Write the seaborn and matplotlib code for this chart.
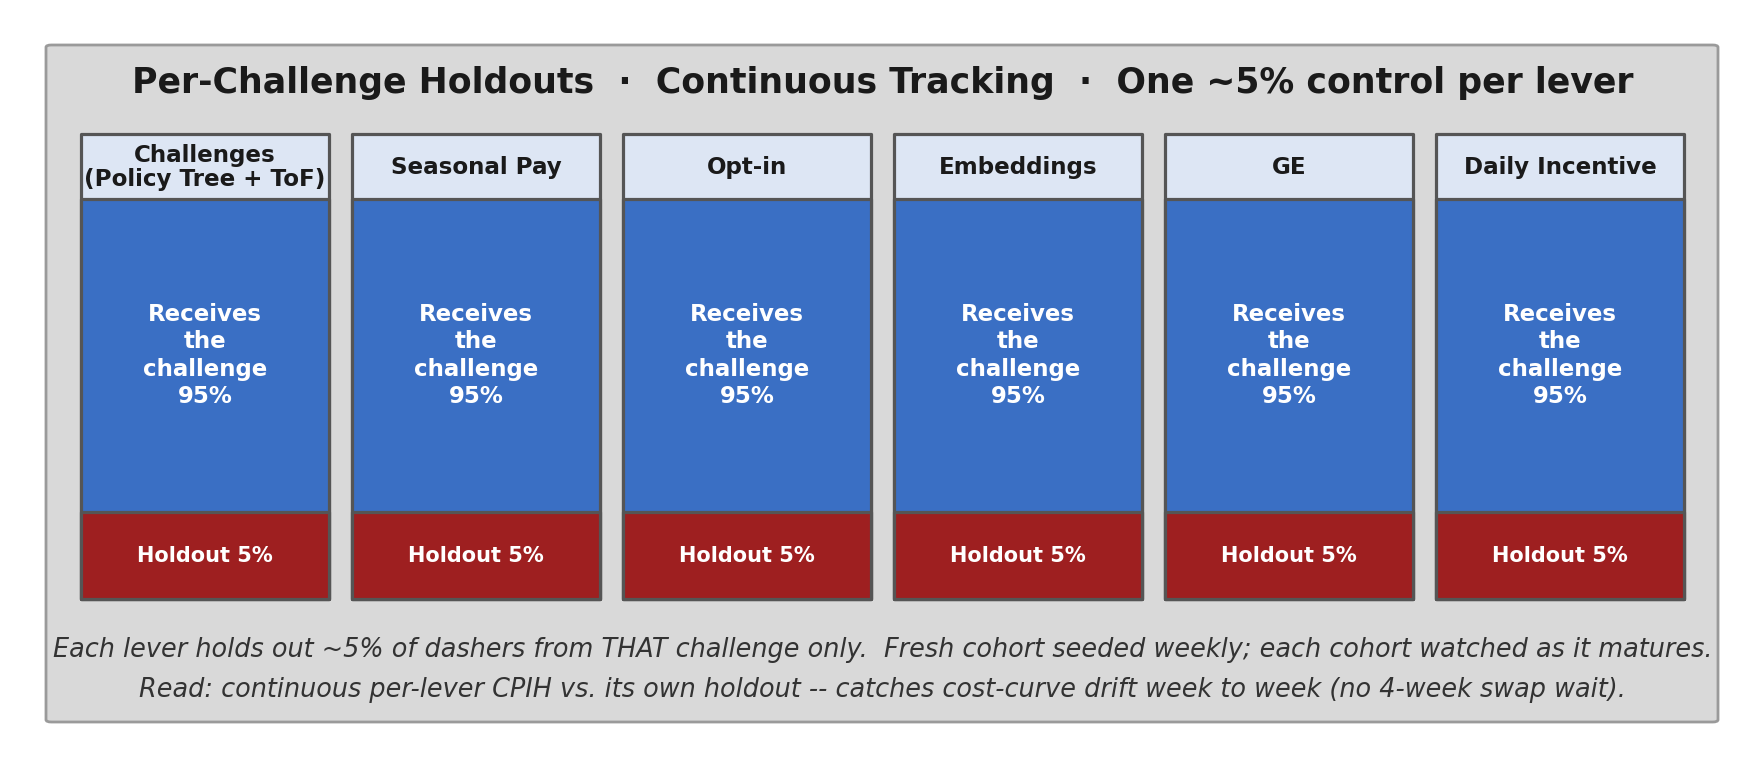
"""Per-challenge holdout diagram: one ~5% control group per lever."""

import matplotlib.pyplot as plt
from matplotlib.patches import FancyBboxPatch
import seaborn as sns

# Data
levers = ['Challenges\n(Policy Tree + ToF)', 'Seasonal Pay', 'Opt-in',
          'Embeddings', 'GE', 'Daily Incentive']
treated_pct = [95, 95, 95, 95, 95, 95]
holdout_pct = [5, 5, 5, 5, 5, 5]
treated_label = 'Receives\nthe\nchallenge'
holdout_label = 'Holdout'

title = 'Per-Challenge Holdouts  \u00b7  Continuous Tracking  \u00b7  One ~5% control per lever'
footer = ['Each lever holds out ~5% of dashers from THAT challenge only.  '
          'Fresh cohort seeded weekly; each cohort watched as it matures.',
          'Read: continuous per-lever CPIH vs. its own holdout -- catches '
          'cost-curve drift week to week (no 4-week swap wait).']

# Colours
HEADER_C = '#dde6f4'
BLUE_C = '#3a6fc4'
RED_C = '#9e1f20'
EDGE_C = '#555555'

# Segment heights in display units (not to scale with the percentages)
RED_H = 87
BLUE_H = 313
HEAD_H = 65

sns.set_style('white')
plt.rcParams['font.family'] = ['DejaVu Sans']

W, H = 1765, 768
fig = plt.figure(figsize=(W / 100, H / 100), dpi=100)
fig.patch.set_facecolor('white')

# outer panel
panel = FancyBboxPatch((46 / W, 1 - 722 / H), 1672 / W, 677 / H,
                       boxstyle='round,pad=0,rounding_size=0.003',
                       transform=fig.transFigure, facecolor='#d9d9d9',
                       edgecolor='#9a9a9a', linewidth=2, zorder=-5)
fig.patches.append(panel)

# axes holding the columns (pixel-like y units)
ax = fig.add_axes([69.5 / W, 1 - 609 / H, 1626 / W, 485 / H])
ax.set_facecolor('none')

totals = [RED_H + BLUE_H + HEAD_H] * len(levers)
blue_tops = [RED_H + BLUE_H] * len(levers)
red_tops = [RED_H] * len(levers)

bar_kw = dict(width=248 / 271, saturation=1, edgecolor=EDGE_C,
              linewidth=2.3, ax=ax)
sns.barplot(x=levers, y=totals, color=HEADER_C, **bar_kw)
sns.barplot(x=levers, y=blue_tops, color=BLUE_C, **bar_kw)
sns.barplot(x=levers, y=red_tops, color=RED_C, **bar_kw)
for p in ax.patches:
    p.set_joinstyle('round')

for i, name in enumerate(levers):
    ax.text(i, RED_H + BLUE_H + HEAD_H / 2 - 1, name, ha='center',
            va='center', fontsize=16.6, fontweight='bold', color='#1a1a1a',
            linespacing=1.05)
    ax.text(i, RED_H + BLUE_H / 2, f'{treated_label}\n{treated_pct[i]}%',
            ha='center', va='center', fontsize=16.5, fontweight='bold',
            color='white', linespacing=1.25)
    ax.text(i, RED_H / 2, f'{holdout_label} {holdout_pct[i]}%',
            ha='center', va='center', fontsize=15, fontweight='bold',
            color='white')

ax.set_xlim(-0.5, len(levers) - 0.5)
ax.set_ylim(-10, totals[0] + 10)
ax.axis('off')

fig.text(0.5, 1 - 83 / H, title, ha='center', va='center', fontsize=25,
         fontweight='bold', color='#1a1a1a')
fig.text(0.5, 1 - 650 / H, footer[0], ha='center', va='center',
         fontsize=18.4, style='italic', color='#333333')
fig.text(0.5, 1 - 690 / H, footer[1], ha='center', va='center',
         fontsize=18.4, style='italic', color='#333333')

fig.savefig('out.png', dpi=100)
